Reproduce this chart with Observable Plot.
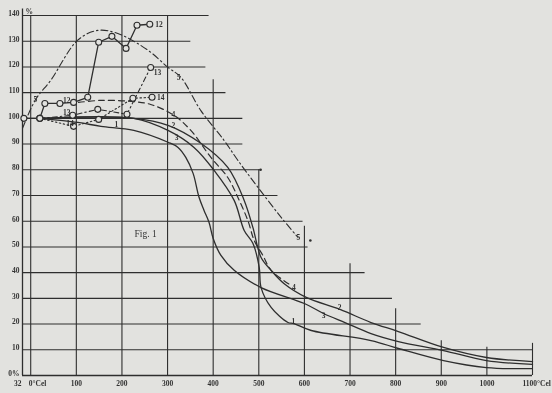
<!DOCTYPE html>
<html><head><meta charset="utf-8">
<script src="https://cdn.jsdelivr.net/npm/d3@7"></script>
<script src="https://cdn.jsdelivr.net/npm/@observablehq/plot@0.6"></script>
<style>html,body{margin:0;padding:0;background:#e2e2df;} svg{will-change:transform;} svg text{opacity:0.97;}</style>
</head><body><div id="chart"></div>
<script>
// axis ticks
const yTicks = [140,130,120,110,100,90,80,70,60,50,40,30,20,10,0];
const yTickLabels = ["140","130","120","110","100","90","80","70","60","50","40","30","20","10","0%"];
const xTicks = [0,100,200,300,400,500,600,700,800,900,1000,1100];
const xTickLabels = ["0°Cel","100","200","300","400","500","600","700","800","900","1000","1100°Cel"];
// staircase grid (value, extent in data units)
const hGridY   = [140,130,120,110,100,90,80,70,60,50,40,30,20,10];
const hGridEnd = [391,351,384,428,465,465,504,542,597,608,733,793,856,1100];
const vGridX   = [0,100,200,300,400,500,600,700,800,900,1000,1100];
const vGridTop = [140,140,140,140,115,80,58,43.5,26,13.5,11,12.5];

// series (temperature °C, percent)
const s1T = [20,226,301,358,402,446,468,487,501,505,527,564,577,615,746,806,905,999,1100];
const s1V = [100,100,95.3,88.7,79.8,68.1,56.4,51.4,42.0,34.2,26.5,20.6,20.2,17.5,13.6,10.5,5.8,3.1,2.7];
const s2T = [20,226,301,373,432,468,487,505,527,555,604,678,746,806,905,999,1100];
const s2V = [100,100,97.3,90.3,80.9,68.1,57.6,45.9,40.9,35.8,30.4,25.7,20.6,17.1,10.9,7.0,5.4];
const s3T = [20,103,154,226,301,323,340,356,369,380,391,400,417,446,505,600,643,690,746,806,905,999,1100];
const s3V = [100,98.4,96.9,95.3,90.7,88.7,84.8,78.6,69.3,64.2,59.5,53.3,46.7,40.9,34.2,28,24,20.5,16.3,13.2,9.7,5.8,4.3];
const s4T = [105,154,220,263,314,351,395,432,454,476,490,509,527,571];
const s4V = [106.2,107.0,106.6,105.4,101.2,95.3,84.8,77.0,69.3,60.3,52.5,46.7,40.9,35.0];
const s5T = [-18,11,44,103,147,191,257,301,329,373,424,454,498,549,586];
const s5V = [96.1,107.4,114.8,130.4,134.2,133,126.5,119.8,116,103,91.4,83.7,73.2,61.5,53.7];
const s12T = [-15,20,31,64,94,125,149,178,209,233,261];
const s12V = [100,100,105.8,105.8,106.2,108.2,129.6,131.9,127.2,136.2,136.6];
const s13T = [20,92,147,211,263];
const s13V = [100,101.2,103.5,101.6,119.8];
const s14T = [20,94,149,224,266];
const s14V = [100,96.9,99.6,107.8,108.2];

// curve labels
const labelText = ["1","2","3","4","5","5","5","12","12","13","13","14","14","4","2","3","1"];
const labelT    = [188,313,320,313,10,324,587,281,79,79,278,86,285,577,677,642,576];
const labelV    = [97.6,97.2,92.6,101.5,107.4,115.9,53.7,136.5,107,102.3,117.9,98,108.1,34.2,26.4,23.3,21];

const pts = (T, V) => T.map((t, i) => ({t, v: V[i]}));
const ink = "#2e2e2e";
const bg = "#e2e2df";
const font = "Liberation Serif";

const hGrid = hGridY.map((y, i) => ({y, x2: hGridEnd[i]}));
const vGrid = vGridX.map((x, i) => ({x, y2: vGridTop[i]}));
const xLab = xTicks.map((x, i) => ({x, label: xTickLabels[i]}));
const yLab = yTicks.map((y, i) => ({y, label: yTickLabels[i]}));
const labels = labelText.map((s, i) => ({s, t: labelT[i], v: labelV[i]}));
const tickFont = {fontSize: 7.5, fontWeight: "bold", fill: ink};

const chart = Plot.plot({
  width: 552, height: 393,
  marginLeft: 22, marginRight: 20, marginTop: 15, marginBottom: 18,
  x: {domain: [-18, 1100], axis: null},
  y: {domain: [0, 140], axis: null},
  style: {background: bg, fontFamily: font},
  marks: [
    Plot.ruleY(hGrid, {y: "y", x1: -18, x2: "x2", stroke: ink, strokeWidth: 1.1}),
    Plot.ruleX(vGrid, {x: "x", y1: 0, y2: "y2", stroke: ink, strokeWidth: 1.1}),
    Plot.ruleX([-18], {y1: 0, y2: 142.5, stroke: ink, strokeWidth: 1.3}),
    Plot.ruleY([0], {x1: -18, x2: 1100, stroke: ink, strokeWidth: 1.3}),
    Plot.dot([{t: 504, v: 80}, {t: 613, v: 52.5}], {x: "t", y: "v", r: 1.3, fill: ink}),
    Plot.line(pts(s1T, s1V), {x: "t", y: "v", curve: "catmull-rom", stroke: ink, strokeWidth: 1.3}),
    Plot.line(pts(s2T, s2V), {x: "t", y: "v", curve: "catmull-rom", stroke: ink, strokeWidth: 1.3}),
    Plot.line(pts(s3T, s3V), {x: "t", y: "v", curve: "catmull-rom", stroke: ink, strokeWidth: 1.3}),
    Plot.line(pts(s4T, s4V), {x: "t", y: "v", curve: "catmull-rom", stroke: ink, strokeWidth: 1.2, strokeDasharray: "6,4"}),
    Plot.line(pts(s5T, s5V), {x: "t", y: "v", curve: "catmull-rom", stroke: ink, strokeWidth: 1.1, strokeDasharray: "7,3,1.5,3"}),
    Plot.line(pts(s12T, s12V), {x: "t", y: "v", stroke: ink, strokeWidth: 1.3}),
    Plot.line(pts(s13T, s13V), {x: "t", y: "v", stroke: ink, strokeWidth: 1.1, strokeDasharray: "5,3,1.5,3"}),
    Plot.line(pts(s14T, s14V), {x: "t", y: "v", stroke: ink, strokeWidth: 1.1, strokeDasharray: "1.5,2.5"}),
    Plot.dot(pts(s12T, s12V), {x: "t", y: "v", r: 3, fill: bg, stroke: ink, strokeWidth: 1.1}),
    Plot.dot(pts(s13T, s13V), {x: "t", y: "v", r: 3, fill: bg, stroke: ink, strokeWidth: 1.1}),
    Plot.dot(pts(s14T, s14V), {x: "t", y: "v", r: 3, fill: bg, stroke: ink, strokeWidth: 1.1}),
    Plot.text(labels, {x: "t", y: "v", text: "s", ...tickFont}),
    Plot.text(yLab, {x: -18, y: "y", text: "label", textAnchor: "end", dx: -3, dy: -2, ...tickFont}),
    Plot.text(["%"], {x: -18, y: 142, text: d => d, textAnchor: "start", dx: 3, dy: 1, ...tickFont}),
    Plot.text(xLab.filter(d => d.x > 0 && d.x < 1100), {x: "x", y: 0, text: "label", dy: 8, textAnchor: "middle", ...tickFont}),
    Plot.text(xLab.filter(d => d.x === 0), {x: "x", y: 0, text: "label", dy: 8, dx: -2, textAnchor: "start", ...tickFont}),
    Plot.text(xLab.filter(d => d.x === 1100), {x: "x", y: 0, text: "label", dy: 8, dx: -10, textAnchor: "start", ...tickFont}),
    Plot.text(["32"], {x: -18, y: 0, text: d => d, dy: 8, dx: -1, textAnchor: "end", ...tickFont}),
    Plot.text(["Fig. 1"], {x: 252, y: 55.2, text: d => d, fontSize: 9.5, fill: ink})
  ]
});
document.getElementById("chart").appendChild(chart);
</script>
</body></html>
